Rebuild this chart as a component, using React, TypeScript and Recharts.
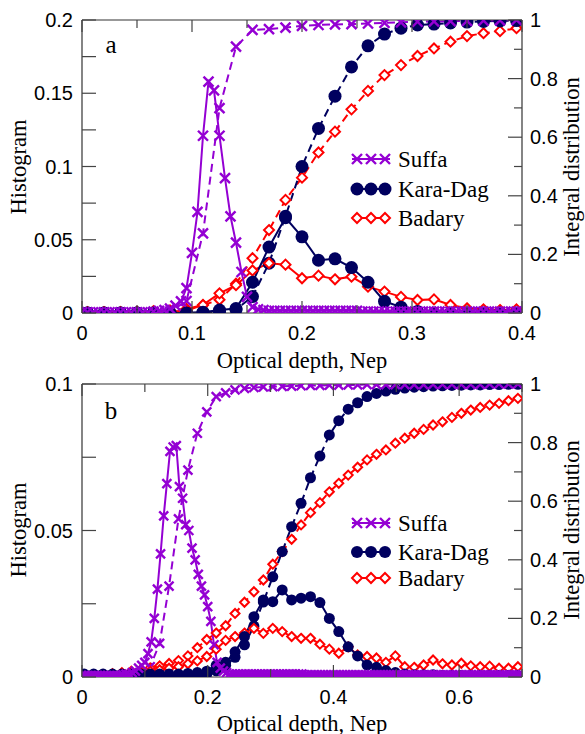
import React from 'react';
import { ComposedChart, Line, XAxis, YAxis } from 'recharts';

const SUFFA = '#9400D3';
const KARA = '#00005F';
const BADARY = '#FF0000';
const SERIF = '"Liberation Serif", "Times New Roman", serif';
const SANS = '"Liberation Sans", Arial, sans-serif';

// ---------- Panel a data ----------
const aBinX = [0.005, 0.02, 0.035, 0.05, 0.065, 0.08, 0.095, 0.11, 0.125, 0.14, 0.155, 0.17, 0.185, 0.2, 0.215, 0.23, 0.245, 0.26, 0.275, 0.29, 0.305, 0.32, 0.335, 0.35, 0.365, 0.38, 0.395];
const aSuffaHistX = Array.from({ length: 81 }, (_, i) => +(i * 0.005).toFixed(3));
const aSuffaHist = [
  0.0005, 0.0005, 0.0005, 0.0005, 0.0005, 0.0005, 0.0005, 0.0005, 0.0005, 0.0005, 0.0005, 0.0005, 0.0005,
  0.001, 0.0015, 0.002, 0.003, 0.005, 0.008, 0.017, 0.041, 0.069, 0.121, 0.158, 0.152, 0.121, 0.092, 0.066, 0.048, 0.028, 0.011, 0.004,
  0.0025, 0.002,
  0.0015, 0.0015, 0.0015, 0.0015, 0.0015, 0.0015, 0.0015, 0.0015, 0.0015, 0.0015, 0.0015, 0.0015, 0.0015, 0.0015, 0.0015, 0.0015, 0.0015,
  0.001, 0.001, 0.001, 0.001, 0.001, 0.001, 0.001, 0.001, 0.001, 0.001, 0.001, 0.001, 0.001, 0.001, 0.001,
  0.001, 0.001, 0.001, 0.001, 0.001, 0.001, 0.001, 0.001, 0.001, 0.001, 0.001, 0.001, 0.001, 0.001, 0.001,
];
const aSuffaCum = [0.001, 0.001, 0.001, 0.001, 0.001, 0.004, 0.041, 0.272, 0.699, 0.909, 0.966, 0.969, 0.974, 0.98, 0.983, 0.985, 0.986, 0.988, 0.99, 0.992, 0.994, 0.995, 0.996, 0.997, 0.998, 0.999, 1.0];
const aKaraHist = [0, 0, 0, 0, 0, 0, 0, 0.0005, 0.002, 0.003, 0.021, 0.045, 0.065, 0.052, 0.036, 0.037, 0.031, 0.021, 0.008, 0.004, 0.001, 0, 0, 0, 0, 0, 0];
const aKaraCum = [0, 0, 0, 0, 0, 0, 0, 0.002, 0.005, 0.012, 0.056, 0.17, 0.33, 0.5, 0.63, 0.74, 0.84, 0.912, 0.952, 0.972, 0.983, 0.986, 0.99, 0.993, 0.995, 0.997, 0.998];
const aBadaryHist = [0.0005, 0.0005, 0.0005, 0.0005, 0.0005, 0.001, 0.0015, 0.0055, 0.0134, 0.019, 0.029, 0.034, 0.033, 0.0237, 0.0255, 0.023, 0.0248, 0.018, 0.0146, 0.011, 0.0089, 0.0093, 0.0055, 0.0032, 0.0025, 0.002, 0.0025];
const aBadaryCum = [0.001, 0.002, 0.003, 0.004, 0.006, 0.009, 0.014, 0.027, 0.045, 0.1, 0.187, 0.283, 0.386, 0.462, 0.548, 0.619, 0.695, 0.758, 0.812, 0.846, 0.877, 0.903, 0.926, 0.945, 0.955, 0.962, 0.972];

// ---------- Panel b data ----------
const bBinX = [0.0035, 0.0185, 0.0335, 0.0485, 0.0635, 0.0785, 0.0935, 0.1085, 0.1235, 0.1385, 0.1535, 0.1685, 0.1835, 0.1985, 0.2135, 0.2285, 0.2435, 0.2585, 0.2735, 0.2885, 0.3035, 0.3185, 0.3335, 0.3485, 0.3635, 0.3785, 0.3935, 0.4085, 0.4235, 0.4385, 0.4535, 0.4685, 0.4835, 0.4985, 0.5135, 0.5285, 0.5435, 0.5585, 0.5735, 0.5885, 0.6035, 0.6185, 0.6335, 0.6485, 0.6635, 0.6785, 0.6935];
const bSuffaHistX = Array.from({ length: 141 }, (_, i) => +(i * 0.005).toFixed(3));
const bSuffaHist = [
  0.0005, 0.0005, 0.0005, 0.0005, 0.0005, 0.0005, 0.0005, 0.0005, 0.0005, 0.0005, 0.0005, 0.0005, 0.0005,
  0.0007, 0.001, 0.001, 0.0015, 0.002, 0.003, 0.004, 0.005, 0.008, 0.012, 0.02, 0.03, 0.042, 0.055, 0.066, 0.077, 0.0785, 0.079,
  0.065, 0.061, 0.052, 0.05, 0.044, 0.04, 0.035, 0.031, 0.028, 0.024, 0.019, 0.011, 0.005, 0.003, 0.002, 0.0015,
  0.001, 0.001, 0.001, 0.001, 0.001, 0.001, 0.001, 0.001, 0.001, 0.001, 0.001, 0.001,
  0.001, 0.001, 0.001, 0.001, 0.001, 0.001, 0.001, 0.001, 0.001, 0.001, 0.001, 0.001,
  0.0007, 0.0007, 0.0007, 0.0007, 0.0007, 0.0007, 0.0007, 0.0007, 0.0007, 0.0007, 0.0007, 0.0007, 0.0007, 0.0007,
  0.0007, 0.0007, 0.0007, 0.0007, 0.0007, 0.0007, 0.0007, 0.0007, 0.0007, 0.0007, 0.0007, 0.0007, 0.0007, 0.0007,
  0.0007, 0.0007, 0.0007, 0.0007, 0.0007, 0.0007, 0.0007, 0.0007, 0.0007, 0.0007, 0.0007, 0.0007, 0.0007, 0.0007,
  0.0007, 0.0007, 0.0007, 0.0007, 0.0007, 0.0007, 0.0007, 0.0007, 0.0007, 0.0007, 0.0007, 0.0007, 0.0007, 0.0007,
  0.0007, 0.0007, 0.0007, 0.0007, 0.0007, 0.0007, 0.0007, 0.0007, 0.0007, 0.0007, 0.0007, 0.0007, 0.0007, 0.0007,
];
const bSuffaCum = [0.002, 0.002, 0.002, 0.002, 0.002, 0.002, 0.01, 0.035, 0.115, 0.31, 0.54, 0.706, 0.832, 0.905, 0.957, 0.97, 0.98, 0.985, 0.988, 0.99, 0.991, 0.992, 0.993, 0.994, 0.995, 0.995, 0.996, 0.996, 0.997, 0.997, 0.998, 0.998, 0.998, 0.998, 0.998, 0.998, 0.998, 0.999, 0.999, 0.999, 0.999, 0.999, 0.999, 1, 1, 1, 1];
const bKaraHist = [0.001, 0.001, 0.001, 0.001, 0.001, 0.001, 0.001, 0.001, 0.001, 0.001, 0.001, 0.0012, 0.0015, 0.002, 0.004, 0.005, 0.0086, 0.0138, 0.0206, 0.0263, 0.0257, 0.0297, 0.0263, 0.0269, 0.0274, 0.0254, 0.02, 0.0155, 0.0103, 0.0072, 0.0041, 0.0033, 0.0022, 0.0015, 0.001, 0.0008, 0.0008, 0.0008, 0.0005, 0.0005, 0.0005, 0.0005, 0.0005, 0.0005, 0.0005, 0.0005, 0.0005];
const bKaraCum = [0.001, 0.001, 0.001, 0.001, 0.002, 0.002, 0.002, 0.003, 0.003, 0.004, 0.004, 0.005, 0.007, 0.01, 0.021, 0.04, 0.067, 0.11, 0.174, 0.256, 0.342, 0.428, 0.513, 0.593, 0.68, 0.754, 0.826, 0.875, 0.914, 0.936, 0.957, 0.968, 0.976, 0.982, 0.986, 0.989, 0.991, 0.993, 0.994, 0.995, 0.996, 0.997, 0.997, 0.998, 0.998, 0.999, 0.999];
const bBadaryHist = [0.0005, 0.0007, 0.0008, 0.001, 0.0012, 0.0014, 0.0017, 0.002, 0.0025, 0.003, 0.0035, 0.0045, 0.0055, 0.007, 0.0095, 0.0125, 0.0138, 0.015, 0.0166, 0.0149, 0.0166, 0.0155, 0.0138, 0.0132, 0.0132, 0.0112, 0.0095, 0.0081, 0.0103, 0.0075, 0.007, 0.0065, 0.005, 0.0072, 0.0035, 0.0033, 0.0041, 0.0058, 0.0045, 0.0041, 0.0047, 0.0038, 0.0035, 0.0037, 0.003, 0.003, 0.0035];
const bBadaryCum = [0.002, 0.005, 0.008, 0.011, 0.015, 0.02, 0.025, 0.031, 0.038, 0.046, 0.056, 0.072, 0.1, 0.128, 0.15, 0.175, 0.217, 0.255, 0.291, 0.331, 0.385, 0.428, 0.47, 0.519, 0.561, 0.595, 0.632, 0.661, 0.689, 0.716, 0.741, 0.76, 0.775, 0.798, 0.815, 0.832, 0.845, 0.86, 0.871, 0.886, 0.9, 0.911, 0.92, 0.928, 0.934, 0.943, 0.951];

// ---------- tick values ----------
const aXTicks = [0, 0.05, 0.1, 0.15, 0.2, 0.25, 0.3, 0.35, 0.4];
const aHistTicks = [0, 0.025, 0.05, 0.075, 0.1, 0.125, 0.15, 0.175, 0.2];
const bXTicks = [0, 0.1, 0.2, 0.3, 0.4, 0.5, 0.6, 0.7];
const bHistTicks = [0, 0.025, 0.05, 0.075, 0.1];
const cumTicks = [0, 0.1, 0.2, 0.3, 0.4, 0.5, 0.6, 0.7, 0.8, 0.9, 1];

const SERIES_NAMES = ['Suffa', 'Kara-Dag', 'Badary'];

const pts = (xs: number[], ys: number[]) => xs.map((x, i) => ({ x, y: ys[i] }));
const fmt = (v: number) => String(parseFloat(v.toFixed(3)));
const M = 8;
const TICK_STROKE = '#444';

const mkTick = (side: string, majorStep: number, majorLen: number, minorLen: number, labels: boolean) => (props: any) => {
  const { x, y, payload, index } = props;
  const v = payload.value;
  const r = v / majorStep;
  const isMajor = Math.abs(r - Math.round(r)) < 1e-6;
  const L = isMajor ? majorLen : minorLen;
  const lab = isMajor && labels ? fmt(v) : null;
  const tp = { fontFamily: SANS, fontSize: 20, fill: '#000' };
  if (side === 'left') {
    const ax = x + M;
    return (
      <g key={index}>
        <line x1={ax} y1={y} x2={ax + L} y2={y} stroke={TICK_STROKE} strokeWidth={1.2} />
        {lab && <text x={x - 1} y={y} textAnchor="end" dominantBaseline="central" {...tp}>{lab}</text>}
      </g>
    );
  }
  if (side === 'right') {
    const ax = x - M;
    return (
      <g key={index}>
        <line x1={ax} y1={y} x2={ax - L} y2={y} stroke={TICK_STROKE} strokeWidth={1.2} />
        {lab && <text x={x} y={y} textAnchor="start" dominantBaseline="central" {...tp}>{lab}</text>}
      </g>
    );
  }
  if (side === 'bottom') {
    const ay = y - M;
    return (
      <g key={index}>
        <line x1={x} y1={ay} x2={x} y2={ay - L} stroke={TICK_STROKE} strokeWidth={1.2} />
        {lab && <text x={x} y={y + 12} textAnchor="middle" dominantBaseline="central" {...tp}>{lab}</text>}
      </g>
    );
  }
  const ay = y + M;
  return (
    <g key={index}>
      <line x1={x} y1={ay} x2={x} y2={ay + L} stroke={TICK_STROKE} strokeWidth={1.2} />
    </g>
  );
};

const crossDot = (s: number) => (p: any) => {
  const { cx, cy, index } = p;
  if (cx == null || cy == null) return <g key={index} />;
  return (
    <path key={index} d={`M${cx - s},${cy - s}L${cx + s},${cy + s}M${cx - s},${cy + s}L${cx + s},${cy - s}`}
      stroke={SUFFA} strokeWidth={2.4} fill="none" />
  );
};
const circleDot = (r: number) => (p: any) => {
  const { cx, cy, index } = p;
  if (cx == null || cy == null) return <g key={index} />;
  return <circle key={index} cx={cx} cy={cy} r={r} fill={KARA} stroke="none" />;
};
const diamondDot = (s: number) => (p: any) => {
  const { cx, cy, index } = p;
  if (cx == null || cy == null) return <g key={index} />;
  return (
    <path key={index} d={`M${cx},${cy - s}L${cx + s},${cy}L${cx},${cy + s}L${cx - s},${cy}Z`}
      stroke={BADARY} strokeWidth={2} fill="#fff" />
  );
};

type PanelProps = {
  xMax: number; xTicks: number[]; xMajor: number; histMax: number; histTicks: number[];
  suffaHist: any[]; suffaCum: any[]; karaHist: any[]; karaCum: any[]; badHist: any[]; badCum: any[];
  cross: number; circ: number; dia: number;
};

function Panel(p: PanelProps) {
  const common = { type: 'linear' as const, isAnimationActive: false, activeDot: false as any, legendType: 'none' as any };
  return (
    <ComposedChart width={585} height={367} margin={{ top: 0, right: 0, bottom: 0, left: 0 }}>
      <XAxis xAxisId="b" type="number" dataKey="x" domain={[0, p.xMax]} ticks={p.xTicks} interval={0}
        allowDataOverflow orientation="bottom" height={54} tickSize={0} tickMargin={M}
        axisLine={{ stroke: '#333', strokeWidth: 1.2 }} tickLine={false}
        tick={mkTick('bottom', p.xMajor, 12, 8, true)} />
      <XAxis xAxisId="t" type="number" dataKey="x" domain={[0, p.xMax]} ticks={p.xTicks} interval={0}
        allowDataOverflow orientation="top" height={20} tickSize={0} tickMargin={M}
        axisLine={{ stroke: '#333', strokeWidth: 1.2 }} tickLine={false}
        tick={mkTick('top', p.xMajor, 12, 8, false)} />
      <YAxis yAxisId="h" type="number" domain={[0, p.histMax]} ticks={p.histTicks} interval={0}
        allowDataOverflow orientation="left" width={82} tickSize={0} tickMargin={M}
        axisLine={{ stroke: '#333', strokeWidth: 1.2 }} tickLine={false}
        tick={mkTick('left', 0.05, 14, 14, true)} />
      <YAxis yAxisId="c" type="number" domain={[0, 1]} ticks={cumTicks} interval={0}
        allowDataOverflow orientation="right" width={63} tickSize={0} tickMargin={M}
        axisLine={{ stroke: '#333', strokeWidth: 1.2 }} tickLine={false}
        tick={mkTick('right', 0.2, 14, 8, true)} />

      <Line {...common} name={SERIES_NAMES[2] + ' integral'} data={p.badCum} dataKey="y" xAxisId="b" yAxisId="c"
        stroke={BADARY} strokeWidth={2} strokeDasharray="8 5" dot={diamondDot(p.dia)} />
      <Line {...common} name={SERIES_NAMES[1] + ' integral'} data={p.karaCum} dataKey="y" xAxisId="b" yAxisId="c"
        stroke={KARA} strokeWidth={2} strokeDasharray="8 5" dot={circleDot(p.circ)} />
      <Line {...common} name={SERIES_NAMES[0] + ' integral'} data={p.suffaCum} dataKey="y" xAxisId="b" yAxisId="c"
        stroke={SUFFA} strokeWidth={2} strokeDasharray="8 5" dot={crossDot(p.cross)} />
      <Line {...common} name={SERIES_NAMES[2]} data={p.badHist} dataKey="y" xAxisId="b" yAxisId="h"
        stroke={BADARY} strokeWidth={2} dot={diamondDot(p.dia)} />
      <Line {...common} name={SERIES_NAMES[1]} data={p.karaHist} dataKey="y" xAxisId="b" yAxisId="h"
        stroke={KARA} strokeWidth={2} dot={circleDot(p.circ)} />
      <Line {...common} name={SERIES_NAMES[0]} data={p.suffaHist} dataKey="y" xAxisId="b" yAxisId="h"
        stroke={SUFFA} strokeWidth={2} dot={crossDot(p.cross)} />
    </ComposedChart>
  );
}

function LegendBlock({ y0, dy1, dy2, r, s, d }: { y0: number; dy1: number; dy2: number; r: number; s: number; d: number }) {
  const xs = [357, 371, 385];
  const rows = [y0, y0 + dy1, y0 + dy1 + dy2];
  const tp = { fontFamily: SERIF, fontSize: 23, fill: '#000' };
  return (
    <g>
      <line x1={352} x2={390} y1={rows[0]} y2={rows[0]} stroke={SUFFA} strokeWidth={2} />
      {xs.map((x) => (
        <path key={'s' + x} d={`M${x - s},${rows[0] - s}L${x + s},${rows[0] + s}M${x - s},${rows[0] + s}L${x + s},${rows[0] - s}`} stroke={SUFFA} strokeWidth={2.4} fill="none" />
      ))}
      <text x={398} y={rows[0]} dominantBaseline="central" {...tp}>{SERIES_NAMES[0]}</text>
      <line x1={352} x2={390} y1={rows[1]} y2={rows[1]} stroke={KARA} strokeWidth={2} />
      {xs.map((x) => <circle key={'k' + x} cx={x} cy={rows[1]} r={r} fill={KARA} />)}
      <text x={398} y={rows[1]} dominantBaseline="central" {...tp}>{SERIES_NAMES[1]}</text>
      <line x1={352} x2={390} y1={rows[2]} y2={rows[2]} stroke={BADARY} strokeWidth={2} />
      {xs.map((x) => (
        <path key={'b' + x} d={`M${x},${rows[2] - d}L${x + d},${rows[2]}L${x},${rows[2] + d}L${x - d},${rows[2]}Z`} stroke={BADARY} strokeWidth={2} fill="#fff" />
      ))}
      <text x={398} y={rows[2]} dominantBaseline="central" {...tp}>{SERIES_NAMES[2]}</text>
    </g>
  );
}

export default function App() {
  const titleStyle = { fontFamily: SERIF, fontSize: 22.5, fill: '#000' };
  const letterStyle = { fontFamily: SERIF, fontSize: 25, fill: '#000' };
  return (
    <div style={{ position: 'absolute', left: 0, top: 0, width: 585, height: 734, background: '#fff' }}>
      <div style={{ position: 'absolute', left: 0, top: 0 }}>
        <Panel xMax={0.4} xTicks={aXTicks} xMajor={0.1} histMax={0.2} histTicks={aHistTicks}
          suffaHist={pts(aSuffaHistX, aSuffaHist)} suffaCum={pts(aBinX, aSuffaCum)}
          karaHist={pts(aBinX, aKaraHist)} karaCum={pts(aBinX, aKaraCum)}
          badHist={pts(aBinX, aBadaryHist)} badCum={pts(aBinX, aBadaryCum)}
          cross={5} circ={6.5} dia={5} />
      </div>
      <div style={{ position: 'absolute', left: 0, top: 364 }}>
        <Panel xMax={0.7} xTicks={bXTicks} xMajor={0.2} histMax={0.1} histTicks={bHistTicks}
          suffaHist={pts(bSuffaHistX, bSuffaHist)} suffaCum={pts(bBinX, bSuffaCum)}
          karaHist={pts(bBinX, bKaraHist)} karaCum={pts(bBinX, bKaraCum)}
          badHist={pts(bBinX, bBadaryHist)} badCum={pts(bBinX, bBadaryCum)}
          cross={4.5} circ={5.5} dia={4.5} />
      </div>
      <svg width={585} height={734} style={{ position: 'absolute', left: 0, top: 0, pointerEvents: 'none' }}>
        <text x={111} y={44} textAnchor="middle" dominantBaseline="central" {...letterStyle}>a</text>
        <text x={111} y={410} textAnchor="middle" dominantBaseline="central" {...letterStyle}>b</text>
        <text transform="translate(18,167) rotate(-90)" textAnchor="middle" dominantBaseline="central" {...titleStyle}>Histogram</text>
        <text transform="translate(18,530) rotate(-90)" textAnchor="middle" dominantBaseline="central" {...titleStyle}>Histogram</text>
        <text transform="translate(571,167) rotate(-90)" textAnchor="middle" dominantBaseline="central" {...titleStyle}>Integral distribution</text>
        <text transform="translate(571,530) rotate(-90)" textAnchor="middle" dominantBaseline="central" {...titleStyle}>Integral distribution</text>
        <text x={302} y={360} textAnchor="middle" dominantBaseline="central" {...titleStyle}>Optical depth, Nep</text>
        <text x={302} y={723} textAnchor="middle" dominantBaseline="central" {...titleStyle}>Optical depth, Nep</text>
        <LegendBlock y0={159} dy1={30} dy2={29} r={6.5} s={5} d={5} />
        <LegendBlock y0={523} dy1={29} dy2={26} r={6} s={5} d={5} />
      </svg>
    </div>
  );
}
